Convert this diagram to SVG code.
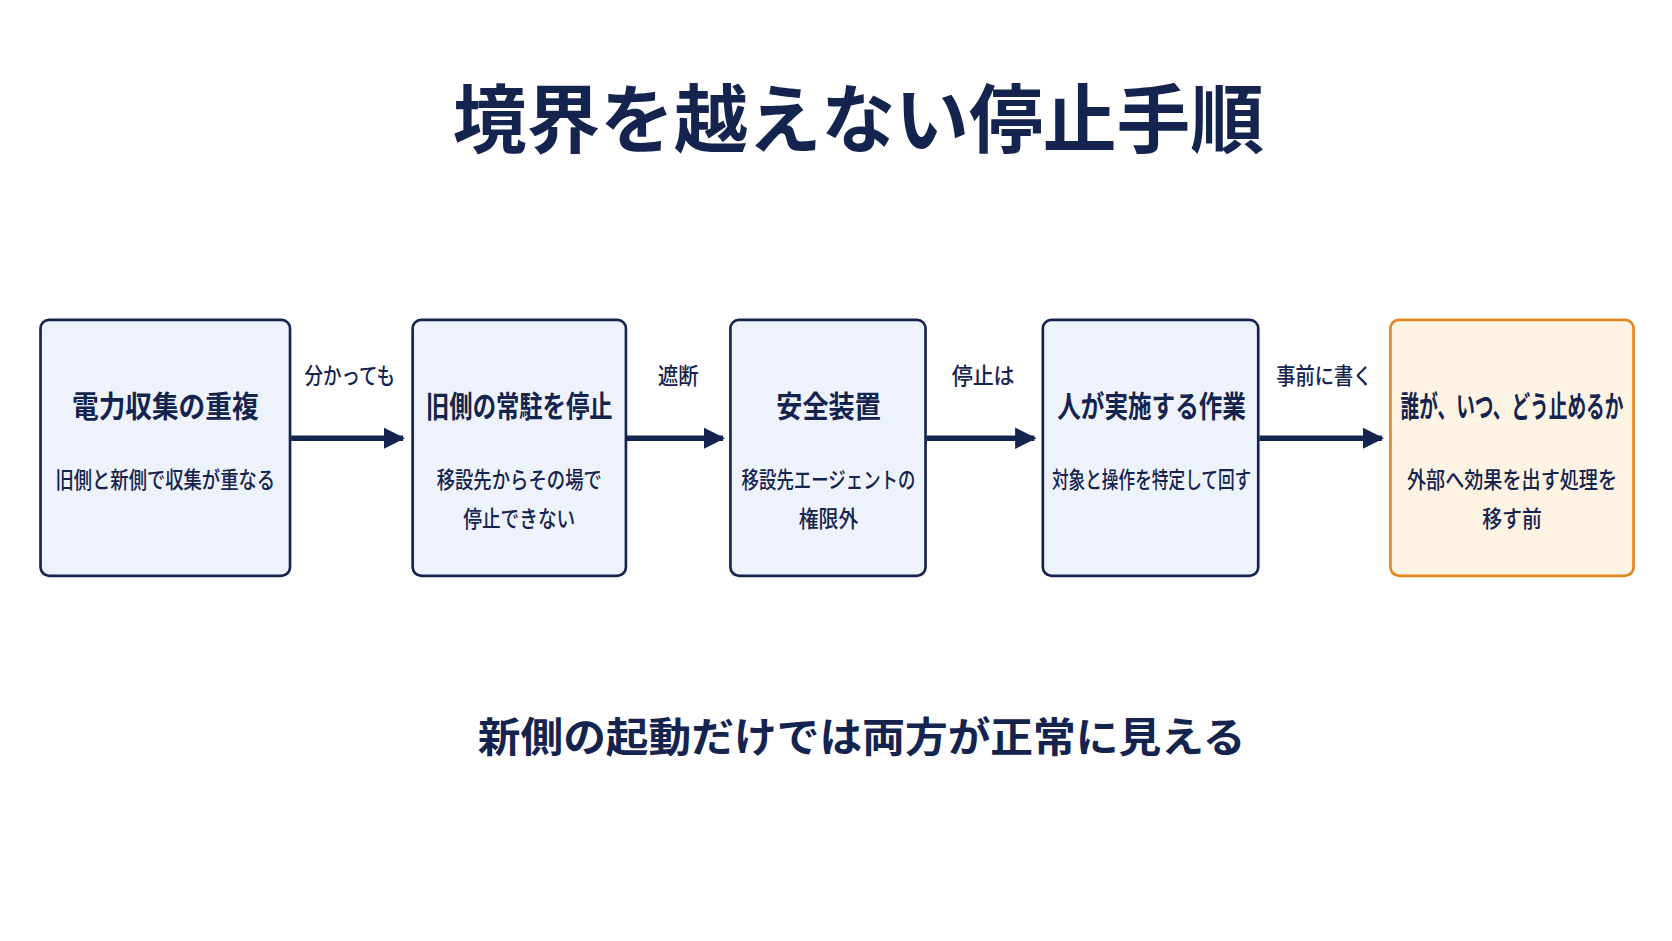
<svg xmlns="http://www.w3.org/2000/svg" width="1672" height="941" viewBox="0 0 1672 941">
<style>
text{font-family:"Noto Sans CJK JP","Noto Sans",sans-serif;fill:#14244f;text-anchor:middle}
.t{font-size:70px;font-weight:700}
.h{font-size:28px;font-weight:700}
.s{font-size:21px;font-weight:500}
.l{font-size:21px;font-weight:500}
.b{font-size:38px;font-weight:700}
.box{fill:#eef3fb;stroke:#14244f;stroke-width:2.5}
.ob{fill:#fdf3e2;stroke:#e0861e;stroke-width:2.5}
.c{stroke:#14244f;stroke-width:5;fill:none;marker-end:url(#a)}
</style>
<defs><marker id="a" viewBox="0 0 10 10" refX="9" refY="5" markerWidth="4" markerHeight="4.4" orient="auto" markerUnits="strokeWidth"><path d="M0,0L10,5L0,10z" fill="#14244f"/></marker></defs>
<rect width="1672" height="941" fill="#fff"/>
<g transform="scale(1.0663)">
<text class="t" x="805" y="138" textLength="761" lengthAdjust="spacingAndGlyphs">境界を越えない停止手順</text>
<g id="n1"><rect class="box" x="38" y="300" width="234" height="240" rx="8"/><text class="h" x="155" y="391" textLength="175" lengthAdjust="spacingAndGlyphs">電力収集の重複</text><text class="s" x="155" y="458" textLength="206" lengthAdjust="spacingAndGlyphs">旧側と新側で収集が重なる</text></g>
<g id="n2"><rect class="box" x="387" y="300" width="200" height="240" rx="8"/><text class="h" x="487" y="391" textLength="175" lengthAdjust="spacingAndGlyphs">旧側の常駐を停止</text><text class="s" x="487" y="458" textLength="155" lengthAdjust="spacingAndGlyphs">移設先からその場で</text><text class="s" x="487" y="494" textLength="105" lengthAdjust="spacingAndGlyphs">停止できない</text></g>
<g id="n3"><rect class="box" x="685" y="300" width="183" height="240" rx="8"/><text class="h" x="777" y="391" textLength="98" lengthAdjust="spacingAndGlyphs">安全装置</text><text class="s" x="777" y="458" textLength="163" lengthAdjust="spacingAndGlyphs">移設先エージェントの</text><text class="s" x="777" y="494" textLength="56" lengthAdjust="spacingAndGlyphs">権限外</text></g>
<g id="n4"><rect class="box" x="978" y="300" width="202" height="240" rx="8"/><text class="h" x="1080" y="391" textLength="177" lengthAdjust="spacingAndGlyphs">人が実施する作業</text><text class="s" x="1080" y="458" textLength="187" lengthAdjust="spacingAndGlyphs">対象と操作を特定して回す</text></g>
<g id="n5"><rect class="ob" x="1304" y="300" width="228" height="240" rx="8"/><text class="h" x="1418" y="391" textLength="209" lengthAdjust="spacingAndGlyphs">誰が、いつ、どう止めるか</text><text class="s" x="1418" y="458" textLength="197" lengthAdjust="spacingAndGlyphs">外部へ効果を出す処理を</text><text class="s" x="1418" y="494" textLength="56" lengthAdjust="spacingAndGlyphs">移す前</text></g>
<g id="connectors">
<path class="c" d="M273,411H378"/><path class="c" d="M588,411H678"/><path class="c" d="M869,411H970"/><path class="c" d="M1181,411H1296"/>
<text class="l" x="328" y="360" textLength="85" lengthAdjust="spacingAndGlyphs">分かっても</text><text class="l" x="636" y="360" textLength="38" lengthAdjust="spacingAndGlyphs">遮断</text><text class="l" x="922" y="360" textLength="59" lengthAdjust="spacingAndGlyphs">停止は</text><text class="l" x="1242" y="360" textLength="90" lengthAdjust="spacingAndGlyphs">事前に書く</text>
</g>
<text class="b" x="808" y="705" textLength="720" lengthAdjust="spacingAndGlyphs">新側の起動だけでは両方が正常に見える</text>
</g>
</svg>
